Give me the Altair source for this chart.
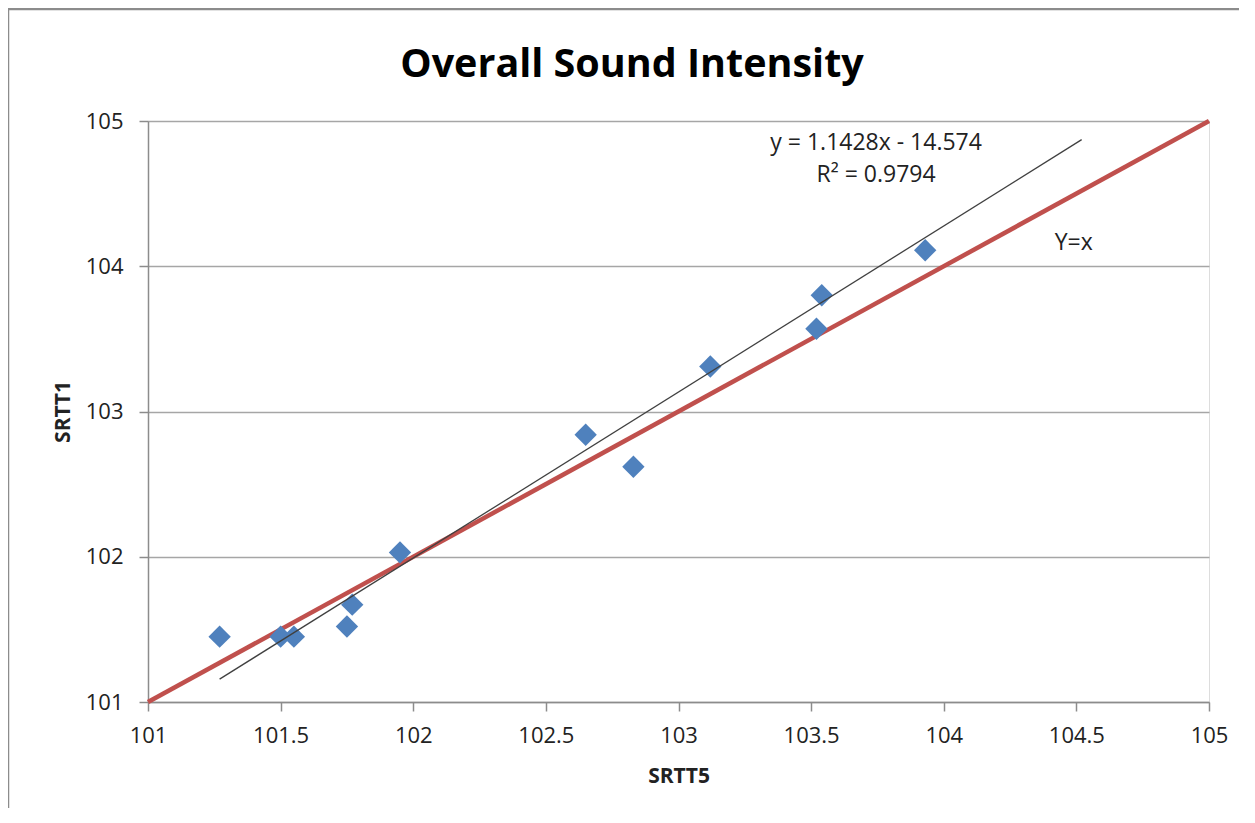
import altair as alt
import pandas as pd

# Data
srtt5 = [101.27, 101.50, 101.55, 101.75, 101.77, 101.95, 102.65, 102.83, 103.12, 103.52, 103.54, 103.93]
srtt1 = [101.45, 101.45, 101.45, 101.52, 101.67, 102.03, 102.84, 102.62, 103.31, 103.57, 103.80, 104.11]

# Y = x reference line
ref_x = [101, 105]
ref_y = [101, 105]

# Linear trendline y = 1.1428x - 14.574 over its drawn extent
slope = 1.1428
intercept = -14.574
trend_x = [101.27, 104.52]
trend_y = [slope * v + intercept for v in trend_x]

# Annotations
ann_text = ["y = 1.1428x - 14.574", "R² = 0.9794", "Y=x"]
ann_x = [103.745, 103.745, 104.49]
ann_y = [104.85, 104.63, 104.16]

FONT = "Open Sans"

pts = pd.DataFrame({"SRTT5": srtt5, "SRTT1": srtt1})
ref = pd.DataFrame({"SRTT5": ref_x, "SRTT1": ref_y})
trend = pd.DataFrame({"SRTT5": trend_x, "SRTT1": trend_y})
ann = pd.DataFrame({"t": ann_text, "SRTT5": ann_x, "SRTT1": ann_y})

xscale = alt.Scale(domain=[101, 105], nice=False, zero=False)
yscale = alt.Scale(domain=[101, 105], nice=False, zero=False)

xaxis = alt.Axis(
    values=[101, 101.5, 102, 102.5, 103, 103.5, 104, 104.5, 105],
    format="~g",
    grid=False, tickSize=9, tickColor="#8c8c8c", domainColor="#8c8c8c",
    domainWidth=1.5, tickWidth=1.5,
    labelFont=FONT, labelFontSize=22, labelColor="#222222", labelPadding=14,
    labelFlush=False, labelOverlap=False,
    title="SRTT5", titleFont=FONT, titleFontSize=21, titleFontWeight="bold",
    titleColor="#222222", titlePadding=19,
)
yaxis = alt.Axis(
    values=[101, 102, 103, 104, 105],
    format="~g",
    grid=True, gridColor="#a6a6a6", gridWidth=1.5,
    tickSize=9, tickColor="#8c8c8c", domainColor="#8c8c8c",
    domainWidth=1.5, tickWidth=1.5,
    labelFont=FONT, labelFontSize=22, labelColor="#222222", labelPadding=16,
    labelFlush=False, labelOverlap=False,
    title="SRTT1", titleFont=FONT, titleFontSize=21, titleFontWeight="bold",
    titleColor="#222222", titlePadding=12,
)

base_x = alt.X("SRTT5:Q", scale=xscale, axis=xaxis)
base_y = alt.Y("SRTT1:Q", scale=yscale, axis=yaxis)

ref_line = alt.Chart(ref).mark_line(color="#c0504d", strokeWidth=4.5).encode(
    x=base_x, y=base_y
)
points = alt.Chart(pts).mark_point(
    shape="diamond", filled=True, size=500, color="#4f81bd", opacity=1
).encode(x="SRTT5:Q", y="SRTT1:Q")
trend_line = alt.Chart(trend).mark_line(color="#404040", strokeWidth=1.3).encode(
    x="SRTT5:Q", y="SRTT1:Q"
)
labels = alt.Chart(ann).mark_text(
    font=FONT, fontSize=23, color="#222222", align="center", baseline="middle"
).encode(x="SRTT5:Q", y="SRTT1:Q", text="t:N")

# Chart title
title_df = pd.DataFrame({"t": ["Overall Sound Intensity"]})
title = alt.Chart(title_df).mark_text(
    font=FONT, fontSize=39.5, fontWeight="bold", color="#000000",
    align="center", baseline="alphabetic"
).encode(x=alt.value(484), y=alt.value(-44), text="t:N")

# Outer frame lines of the chart area (left and top edges)
frame_left = alt.Chart(pd.DataFrame({"k": [0]})).mark_rule(
    color="#8c8c8c", strokeWidth=2.5
).encode(x=alt.value(-140), y=alt.value(-112), y2=alt.value(720))
frame_top = alt.Chart(pd.DataFrame({"k": [0]})).mark_rule(
    color="#8c8c8c", strokeWidth=2.5
).encode(x=alt.value(-140), x2=alt.value(1120), y=alt.value(-112))

chart = alt.layer(
    frame_left, frame_top, ref_line, points, trend_line, labels, title
).properties(
    width=1061,
    height=581,
    autosize=alt.AutoSizeParams(type="none"),
    padding={"left": 140, "top": 113, "right": 30, "bottom": 106},
).configure_view(stroke=None).configure(background="white")

chart.save("out.html", embed_options={"renderer": "svg", "actions": False})
